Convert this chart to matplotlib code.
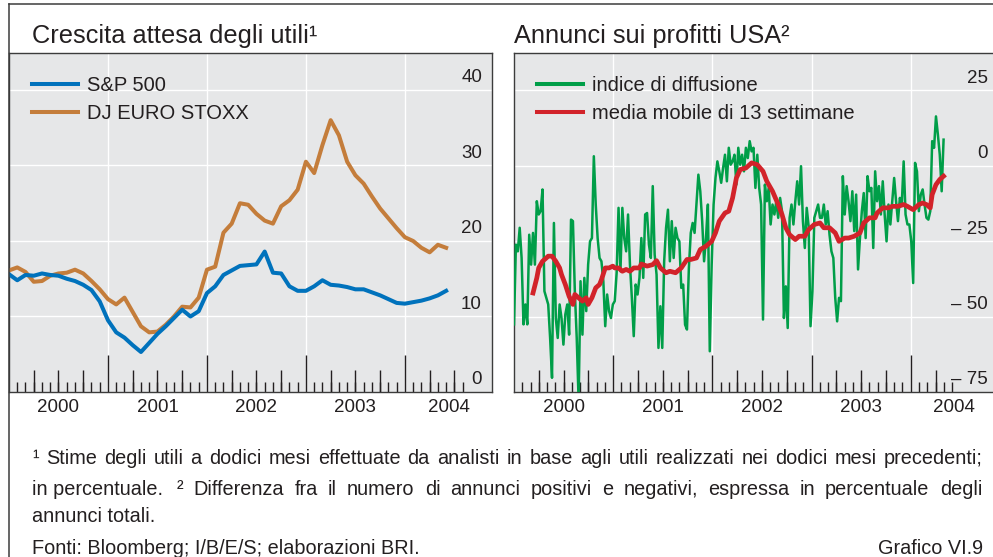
import numpy as np
import matplotlib
matplotlib.use('Agg')
import matplotlib.pyplot as plt
from matplotlib.lines import Line2D
from matplotlib.transforms import blended_transform_factory, offset_copy

plt.rcParams['font.family'] = ['Liberation Sans', 'DejaVu Sans']

# --- dati: crescita attesa degli utili, mensile da gen 2000 (%)
sp500 = [15.6, 14.8, 15.5, 15.4, 15.7, 15.5, 15.4, 15.0, 14.7, 14.2,
         13.5, 12.0, 9.5, 7.9, 7.2, 6.2, 5.3, 6.5, 7.7, 8.7,
         9.8, 10.9, 10.0, 10.7, 13.1, 14.0, 15.5, 16.1, 16.7, 16.8,
         16.9, 18.6, 15.8, 15.7, 14.0, 13.4, 13.4, 14.0, 14.8, 14.2,
         14.1, 13.9, 13.6, 13.6, 13.2, 12.8, 12.3, 11.8, 11.7, 11.9,
         12.1, 12.4, 12.8, 13.4]
dj_stoxx = [16.1, 16.5, 15.9, 14.6, 14.7, 15.4, 15.7, 15.8, 16.2, 15.7,
            14.7, 13.6, 12.3, 11.6, 12.5, 10.6, 8.7, 7.9, 8.0, 8.9,
            10.0, 11.3, 11.2, 12.5, 16.2, 16.6, 21.1, 22.3, 25.0, 24.8,
            23.6, 22.7, 22.3, 24.6, 25.4, 26.8, 30.5, 29.0, 32.7, 36.0,
            34.0, 30.5, 28.7, 27.6, 25.9, 24.3, 23.0, 21.7, 20.5, 20.0,
            19.1, 18.5, 19.5, 19.1]

# --- dati: annunci sui profitti USA, settimanale da inizio 2000
diffusione = [
    -52.6, -26.2, -28.4, -20.6, -30.6, -52.6, -46, -52.6, -22.9, -32.8,
    -22.3, -32.8, -11.8, -16.2, -15.1, -7.9, -41.6, -43.8, -46, -57.1,
    -70.3, -19, -50.5, -57.1, -46, -50.5, -59.3, -49.3, -46, -56,
    -17.9, -18.4, -41.6, -57.1, -78, -38.3, -56, -37.2, -48.2, -32.8,
    -25.1, -24, 3.1, -12.9, -24, -30.6, -31.7, -38.3, -53.2, -42.7,
    -48.2, -50.5, -46, -44.9, -35.5, -14, -35, -14, -24, -28.4,
    -16.2, -32.8, -43.8, -56.5, -39.4,
    -42.7, -37.2, -24, -37.2, -16.2, -15.7, -26.2, -30.6, -6.8, -29.5,
    -36.1, -60.4, -46.6, -60.4, -31.7, -20.6, -14.6, -31.7, -18.4, -30.6,
    -20.6, -24, -25.1, -40.5, -39.4, -52.7, -54.3, -33.9, -22.3, -19,
    -22.3, -12.9, -3, -8.5, -18.4, -31.7, -24, -12.9, -61.5, -32.8,
    -12.9, -4.1, 1.4, -1.9, -5.7, -0.8, 3.6, -5.2, 5.9, 0.3,
    1.4, 3.6, -6.3, 5.9, 0.3, 3.6, -1.9, 5.9, 2.5, 8.1,
    4.7, 5.9, -7.4,
    3.6, -7.4, -12.9, -51, -6.3, -11.8, -7.4, -19.5, -12.9, -16.2,
    -11.8, -17.3, -10.7, -15.1, -50.5, -40, -53.8, -17.3, -12.9, -19.5,
    -11.8, -5.2, -12.9, -0.2, -18.4, -27.3, -14, -20.1, -53.2, -41.6,
    -17.3, -15.1, -12.9, -17.3, -17.3, -12.9, -19.5, -15.1, -22.9, -28.4,
    -30.6, -43.8, -51.6, -43.8, -44.9, -3.5, -16.2, -6.8, -11.8, -18.4,
    -8.5, -21.7, -9.6, -34.4, -24, -15.1, -9.1, -24, -3.5, -8.5,
    -7.4, -27.3, -1.9, -11.8,
    -6.8, -16.2, -5.2, -16.2, -25.1, -12.9, -19.5, -11.8, -4.1, -11.8,
    -18.4, -10.7, -12.9, 1.4, -16.2, -19.5, -19.5, -25.1, -38.9, 0.9,
    -1.9, -15.1, -9.6, -7.9, -12.9, -17.3, -17.9, -15.1, 8.1, 5.9,
    16.3, 10.3, 3.6, -8.5, 8.6]

# media mobile di 13 settimane: settimana e valore
media_sett = [10, 12, 13, 15, 17, 18, 20, 22, 24, 25, 27, 29, 31, 32, 34, 36,
              38, 39, 41, 43, 45, 46, 48, 50, 52, 53, 55, 57, 59, 61, 63,
              66, 67, 70, 73, 75, 77, 80, 82, 85, 88, 91, 93, 96, 98, 101,
              104, 106, 108, 111, 113, 115, 117, 119, 122, 125,
              128, 131, 133, 136, 139, 141, 143, 145, 148, 150, 153, 155,
              158, 161, 163, 166, 169, 171, 174, 176, 179, 182, 184, 187, 190,
              191, 194, 197, 199, 202, 205, 207, 210, 213, 215, 217, 219,
              220, 222, 224, 226]
media_val = [-42.2, -37.2, -33.9, -31.7, -30.6, -30, -30, -31.7, -33.9, -36.1,
             -39.4, -43.3, -46, -42.7, -43.8, -44.9, -43.8, -46, -43.8, -40.5,
             -39.4, -37.8, -33.9, -33.9, -33.3, -33.9, -33.9, -35, -34.4, -35,
             -33.9,
             -33.9, -32.6, -33.3, -32.8, -31.5, -33.9, -35.5, -35, -35.5, -33.9,
             -31.1, -31.1, -30.6, -27.8, -26.7, -25.1, -22.3, -18.4, -15.7, -15.1,
             -10.7, -4.1, -1.3, -0.8, 0.9,
             0.3, -1.9, -5.2, -8.5, -12.9, -16.2, -20.6, -22.9, -24.5, -23.4,
             -23.4, -21.2, -19.5, -19, -20.6, -20.6, -22.3, -25.1, -24, -24,
             -23.4, -22.3, -19, -17.3, -17.3,
             -15.7, -14, -14, -13.5, -13.5, -12.9, -13.5, -14.6, -12.9, -12.4,
             -12.9, -14, -9.6, -6.3, -4.6, -3.5]

anni = ['2000', '2001', '2002', '2003', '2004']
pos_anni = [2000.5, 2001.5, 2002.5, 2003.5, 2004.44]

# colori
TESTO = '#231f20'
BORDO = '#3c3c3c'
SFONDO = '#e6e7e8'
BLU = '#0072bc'
ARANCIO = '#c47d3b'
VERDE = '#009e48'
ROSSO = '#d2232a'

W, H = 993, 557
fig = plt.figure(figsize=(W / 100, H / 100), dpi=100)

# cornice esterna
fig.add_artist(Line2D([9 / W, 1], [1 - 4 / H, 1 - 4 / H], color=BORDO, lw=1.1))
fig.add_artist(Line2D([9 / W, 9 / W], [0, 1 - 4 / H], color=BORDO, lw=1.1))

ax1 = fig.add_axes([9 / W, 165 / H, 483 / W, 339 / H])
ax2 = fig.add_axes([514 / W, 165 / H, 484 / W, 339 / H])


def prepara(ax, ylim, valori_y, etichette_y, ultimo_mese):
    ax.set_facecolor(SFONDO)
    for s in ax.spines.values():
        s.set_color(BORDO)
        s.set_linewidth(1.0)
    ax.set_xlim(2000, 2004.88)
    ax.set_ylim(*ylim)
    for v in valori_y[1:]:
        ax.axhline(v, color='white', lw=1.0, zorder=1)
    for a in range(2001, 2005):
        ax.axvline(a, color='white', lw=1.0, zorder=1)
    # tacche: anni, trimestri, mesi
    mesi = np.arange(1, ultimo_mese + 1)
    ax.set_xticks([2000 + m / 12 for m in mesi if m % 12 == 0])
    ax.set_xticks([2000 + m / 12 for m in mesi if m % 12 != 0], minor=True)
    ax.tick_params(axis='x', which='major', direction='in', length=26.5,
                   width=1.0, color=TESTO, labelbottom=False)
    ax.tick_params(axis='x', which='minor', direction='in', length=7.2,
                   width=1.0, color=TESTO)
    trim = [2000 + m / 12 for m in mesi if m % 3 == 0 and m % 12 != 0]
    ax.vlines(trim, 0, 22 / 339, transform=ax.get_xaxis_transform(),
              color=TESTO, lw=1.0, zorder=3)
    ax.set_yticks([])
    tr_x = offset_copy(ax.get_xaxis_transform(), fig=fig, x=0, y=-16, units='dots')
    for p, a in zip(pos_anni, anni):
        ax.text(p, 0, a, transform=tr_x, ha='center', va='center',
                fontsize=13.5, color=TESTO)
    tr_y = offset_copy(blended_transform_factory(ax.transAxes, ax.transData),
                       fig=fig, x=-10, y=12, units='dots')
    for v, e in zip(valori_y, etichette_y):
        ax.text(1, v, e, transform=tr_y, ha='right', va='center',
                fontsize=13.5, color=TESTO)


leg_kw = dict(loc='upper left', frameon=False, fontsize=14.5,
              handlelength=2.3, handletextpad=0.45, labelspacing=0.48,
              borderpad=0, borderaxespad=1.12, labelcolor=TESTO)

# pannello sinistro
t_mesi = 2000 + np.arange(len(sp500)) / 12
prepara(ax1, (0, 44.9), [0, 10, 20, 30, 40], ['0', '10', '20', '30', '40'], 55)
ax1.plot(t_mesi, dj_stoxx, color=ARANCIO, lw=2.9, zorder=4)
ax1.plot(t_mesi, sp500, color=BLU, lw=2.9, zorder=5)
ax1.legend([Line2D([], [], color=BLU, lw=2.9), Line2D([], [], color=ARANCIO, lw=2.9)],
           ['S&P 500', 'DJ EURO STOXX'], **leg_kw)

# pannello destro
t_sett = 2000 + np.arange(len(diffusione)) * 7 / 365.25
t_media = 2000 + np.array(media_sett) * 7 / 365.25
prepara(ax2, (-75, 37.3), [-75, -50, -25, 0, 25],
        ['\u2013 75', '\u2013 50', '\u2013 25', '0', '25'], 53)
ax2.plot(t_sett, diffusione, color=VERDE, lw=1.8, zorder=4)
ax2.plot(t_media, media_val, color=ROSSO, lw=3.4, zorder=5)
ax2.legend([Line2D([], [], color=VERDE, lw=2.9), Line2D([], [], color=ROSSO, lw=2.9)],
           ['indice di diffusione', 'media mobile di 13 settimane'], **leg_kw)

# titoli
fig.text(32 / W, 1 - 42.5 / H, 'Crescita attesa degli utili\u00b9', fontsize=18.3,
         color=TESTO, va='baseline')
fig.text(514 / W, 1 - 42.5 / H, 'Annunci sui profitti USA\u00b2', fontsize=18.3,
         color=TESTO, va='baseline')

# note a piè di pagina, giustificate a mano
renderer = fig.canvas.get_renderer()
stile = dict(fontsize=14.3, color=TESTO, va='baseline')


def larghezza(o):
    return o.get_window_extent(renderer).width


def riga(testo, y, x0, x1=None):
    if x1 is None:
        o = fig.text(x0 / W, 1 - y / H, testo, **stile)
        return x0 + larghezza(o)
    parole = testo.split(' ')
    oggetti = [fig.text(x0 / W, 1 - y / H, p, **stile) for p in parole]
    larg = [larghezza(o) for o in oggetti]
    spazio = (x1 - x0 - sum(larg)) / (len(oggetti) - 1)
    x = x0
    for o, w in zip(oggetti, larg):
        o.set_x(x / W)
        x += w + spazio
    return x1


riga('\u00b9 Stime degli utili a dodici mesi effettuate da analisti in base '
     'agli utili realizzati nei dodici mesi precedenti;', 464, 32, 983)
fine = riga('in percentuale.', 495, 32)
riga('\u00b2 Differenza fra il numero di annunci positivi e negativi, espressa in '
     'percentuale degli', 495, max(152, fine + 14), 982)
riga('annunci totali.', 522.5, 32)
riga('Fonti: Bloomberg; I/B/E/S; elaborazioni BRI.', 553.5, 32)
fig.text(983 / W, 1 - 553.5 / H, 'Grafico VI.9', ha='right', **stile)

fig.savefig('out.png', dpi=100)
